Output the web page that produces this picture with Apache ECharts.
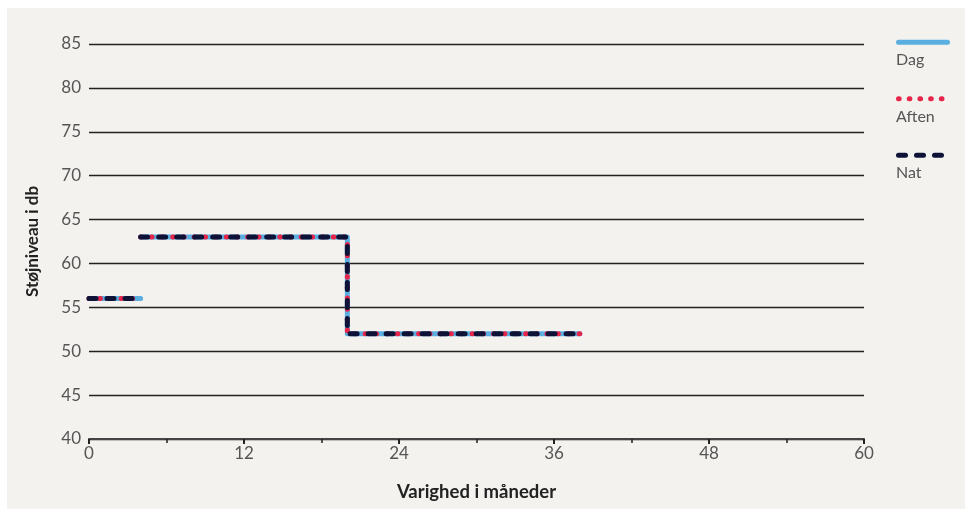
<!DOCTYPE html>
<html><head><meta charset="utf-8">
<script src="https://cdn.jsdelivr.net/npm/echarts@6/dist/echarts.min.js"></script>
<style>html,body{margin:0;padding:0;background:#fff}#c{width:965px;height:509px}</style>
</head><body><div id="c"></div>
<script>
const seriesNames = ['Dag', 'Aften', 'Nat'];
const seriesColors = ['#5aaee0', '#e8264a', '#0e1236'];
// step profile (months, dB); null breaks the line
const stepPoints = [[0, 56], [4, 56], null, [4, 63], [20, 63], [20, 52], [38, 52]];
const dagData = stepPoints;
const aftenData = stepPoints;
const natData = stepPoints;
const xTicks = [0, 12, 24, 36, 48, 60];
const yTicks = [40, 45, 50, 55, 60, 65, 70, 75, 80, 85];

const font = 'Lato';
const dashes = [null, [0.7, 10], [7, 11]];
const toData = a => a.map(p => p ? p : [null, null]);
const legendGraphics = [];
seriesNames.forEach((n, i) => {
  const y = 42.3 + i * 56.5;
  legendGraphics.push({type: 'line', shape: {x1: 898.5, y1: y, x2: 947.5, y2: y},
    style: {stroke: seriesColors[i], lineWidth: 5, lineCap: 'round', lineDash: dashes[i] || null}, silent: true});
  legendGraphics.push({type: 'text', left: 896, top: y + 10,
    style: {text: n, font: '16px "' + font + '"', fill: '#555'}, silent: true});
});
const chart = echarts.init(document.getElementById('c'));
chart.setOption({
  animation: false,
  backgroundColor: '#fff',
  graphic: [
    {type: 'rect', left: 7, top: 8, shape: {width: 958, height: 501}, style: {fill: '#f3f2ef'}, z: -10, silent: true}
  ].concat(legendGraphics),
  grid: {left: 89, right: 101, top: 44, bottom: 70, containLabel: false},
  xAxis: {
    type: 'value', min: xTicks[0], max: xTicks[xTicks.length - 1], interval: 12,
    name: 'Varighed i måneder', nameLocation: 'middle', nameGap: 44,
    nameTextStyle: {fontFamily: font, fontSize: 18.5, fontWeight: 'bold', color: '#222'},
    axisLine: {show: true, lineStyle: {color: '#444', width: 2}},
    axisTick: {show: true, length: 5, lineStyle: {color: '#222', width: 2}},
    minorTick: {show: true, splitNumber: 2, length: 4, lineStyle: {color: '#222', width: 1.5}},
    axisLabel: {fontFamily: font, fontSize: 17, color: '#555', margin: 6},
    splitLine: {show: false}
  },
  yAxis: {
    type: 'value', min: yTicks[0], max: yTicks[yTicks.length - 1], interval: 5,
    name: 'Støjniveau i db', nameLocation: 'middle', nameGap: 48, nameRotate: 90,
    nameTextStyle: {fontFamily: font, fontSize: 17, fontWeight: 'bold', color: '#222'},
    axisLine: {show: false}, axisTick: {show: false},
    axisLabel: {fontFamily: font, fontSize: 17, color: '#555', margin: 8},
    splitLine: {show: true, lineStyle: {color: '#222', width: 1.3}}
  },
  series: [
    {name: 'Dag', type: 'line', data: toData(dagData), showSymbol: false, symbol: 'none', connectNulls: false,
     color: seriesColors[0], lineStyle: {color: seriesColors[0], width: 5, cap: 'round', join: 'round'}, z: 2},
    {name: 'Aften', type: 'line', data: toData(aftenData), showSymbol: false, symbol: 'none', connectNulls: false,
     color: seriesColors[1], lineStyle: {color: seriesColors[1], width: 5, type: dashes[1], cap: 'round', join: 'round'}, z: 3},
    {name: 'Nat', type: 'line', data: toData(natData), showSymbol: false, symbol: 'none', connectNulls: false,
     color: seriesColors[2], lineStyle: {color: seriesColors[2], width: 5, type: dashes[2], cap: 'round', join: 'round'}, z: 4}
  ]
});
</script></body></html>
